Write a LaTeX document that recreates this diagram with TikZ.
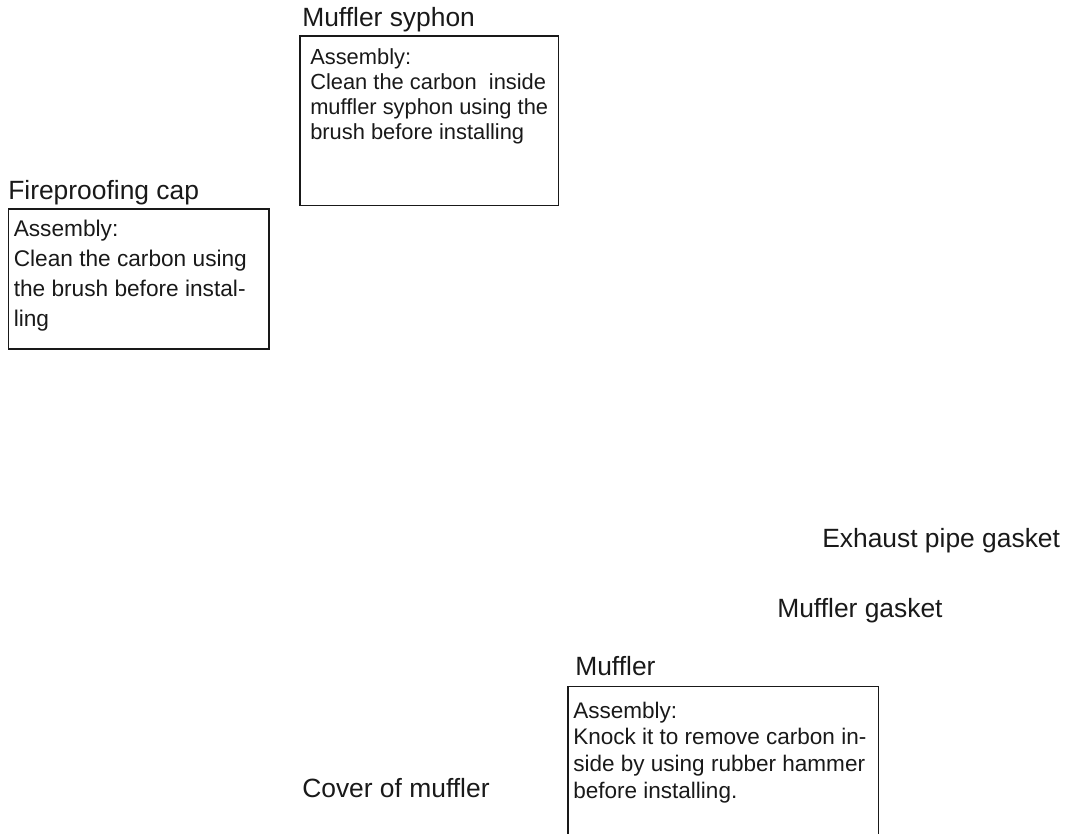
\documentclass[tikz,border=0pt]{standalone}
\usepackage{fontspec}
\setmainfont{Liberation Sans}
\begin{document}
\begin{tikzpicture}[x=0.75pt,y=-0.75pt,
  lbl/.style={anchor=base west,inner sep=0pt,text=black!90,font=\fontsize{19.8}{24}\selectfont},
  boxtxt/.style={anchor=base west,inner sep=0pt,align=left,text=black!90},
  framebox/.style={draw=black!90,line width=1pt}]
\useasboundingbox (0,0) rectangle (1068,834);
\clip (0,0) rectangle (1068,834);
% Muffler syphon
\node[lbl] (lsyphon) at (302,27) {Muffler syphon};
\draw[framebox] (300,36) rectangle (558.5,205.5);
\node[boxtxt,font=\fontsize{16.4}{18.75}\selectfont] (tsyphon) at (310,140)
  {Assembly:\\Clean the carbon\ \ inside\\muffler syphon using the\\brush before installing};
% Fireproofing cap
\node[lbl] (lcap) at (8,200) {Fireproofing cap};
\draw[framebox] (8.5,209) rectangle (269,349);
\node[boxtxt,font=\fontsize{17}{22.5}\selectfont] (tcap) at (13.5,327)
  {Assembly:\\Clean the carbon using\\the brush before instal-\\ling};
% gaskets
\node[lbl] (lexh) at (822,547) {Exhaust pipe gasket};
\node[lbl] (lmg) at (777,617) {Muffler gasket};
% Muffler
\node[lbl] (lmuf) at (575,675) {Muffler};
\draw[framebox] (568,686.5) rectangle (878.5,850);
\node[boxtxt,font=\fontsize{16.9}{20}\selectfont] (tmuf) at (573,798)
  {Assembly:\\Knock it to remove carbon in-\\side by using rubber hammer\\before installing.};
% Cover
\node[lbl] (lcov) at (302,797) {Cover of muffler};
\end{tikzpicture}
\end{document}
